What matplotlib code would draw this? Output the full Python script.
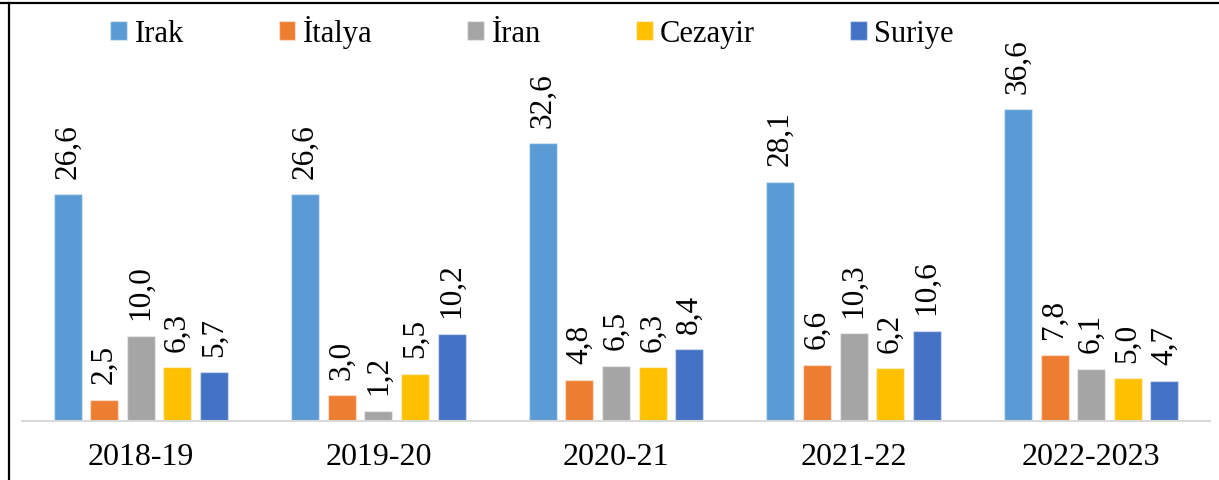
import matplotlib.pyplot as plt
import numpy as np
from matplotlib.lines import Line2D

plt.rcParams["font.family"] = ["Liberation Serif", "DejaVu Serif"]

years = ["2018-19", "2019-20", "2020-21", "2021-22", "2022-2023"]
countries = ["Irak", "İtalya", "İran", "Cezayir", "Suriye"]
irak = [26.6, 26.6, 32.6, 28.1, 36.6]
italya = [2.5, 3.0, 4.8, 6.6, 7.8]
iran = [10.0, 1.2, 6.5, 10.3, 6.1]
cezayir = [6.3, 5.5, 6.3, 6.2, 5.0]
suriye = [5.7, 10.2, 8.4, 10.6, 4.7]
colors = ["#5B9BD5", "#ED7D31", "#A5A5A5", "#FFC000", "#4472C4"]

series = [irak, italya, iran, cezayir, suriye]

fig = plt.figure(figsize=(12.19, 4.81), dpi=100)
ax = fig.add_axes([22 / 1219, 59 / 481, 1188 / 1219, 362 / 481])

x = np.arange(len(years))
step = 0.154
width = 0.118

for i, (name, vals) in enumerate(zip(countries, series)):
    pos = x + (i - 2) * step
    bars = ax.bar(pos, vals, width, color=colors[i], label=name,
                  edgecolor=(1, 1, 1, 0.45), linewidth=1.0, zorder=2)
    for b, v in zip(bars, vals):
        ax.annotate(f"{v:.1f}".replace(".", ","),
                    (b.get_x() + b.get_width() / 2, v),
                    xytext=(0, 12), textcoords="offset points",
                    rotation=90, ha="center", va="bottom", fontsize=22.5)

ax.set_xlim(-0.5, len(years) - 0.5)
ax.set_ylim(0, 42.5)
ax.set_xticks(x)
ax.set_xticklabels(years, fontsize=23)
ax.tick_params(axis="x", length=0, pad=15)
ax.set_yticks([])
for s in ["top", "left", "right"]:
    ax.spines[s].set_visible(False)
ax.spines["bottom"].set_color("#D9D9D9")
ax.spines["bottom"].set_linewidth(1.5)

fig.legend(loc="center", bbox_to_anchor=(532 / 1219, 1 - 33 / 481),
           ncol=5, frameon=False, fontsize=22, handlelength=0.55,
           handleheight=0.55, handletextpad=0.25, columnspacing=3.1)

# frame lines around the chart area
fig.add_artist(Line2D([0, 1], [1 - 4 / 481, 1 - 4 / 481], color="black", lw=1.6))
fig.add_artist(Line2D([9 / 1219, 9 / 1219], [0, 1 - 4 / 481], color="black", lw=1.6))

fig.savefig("out.png", dpi=100)
